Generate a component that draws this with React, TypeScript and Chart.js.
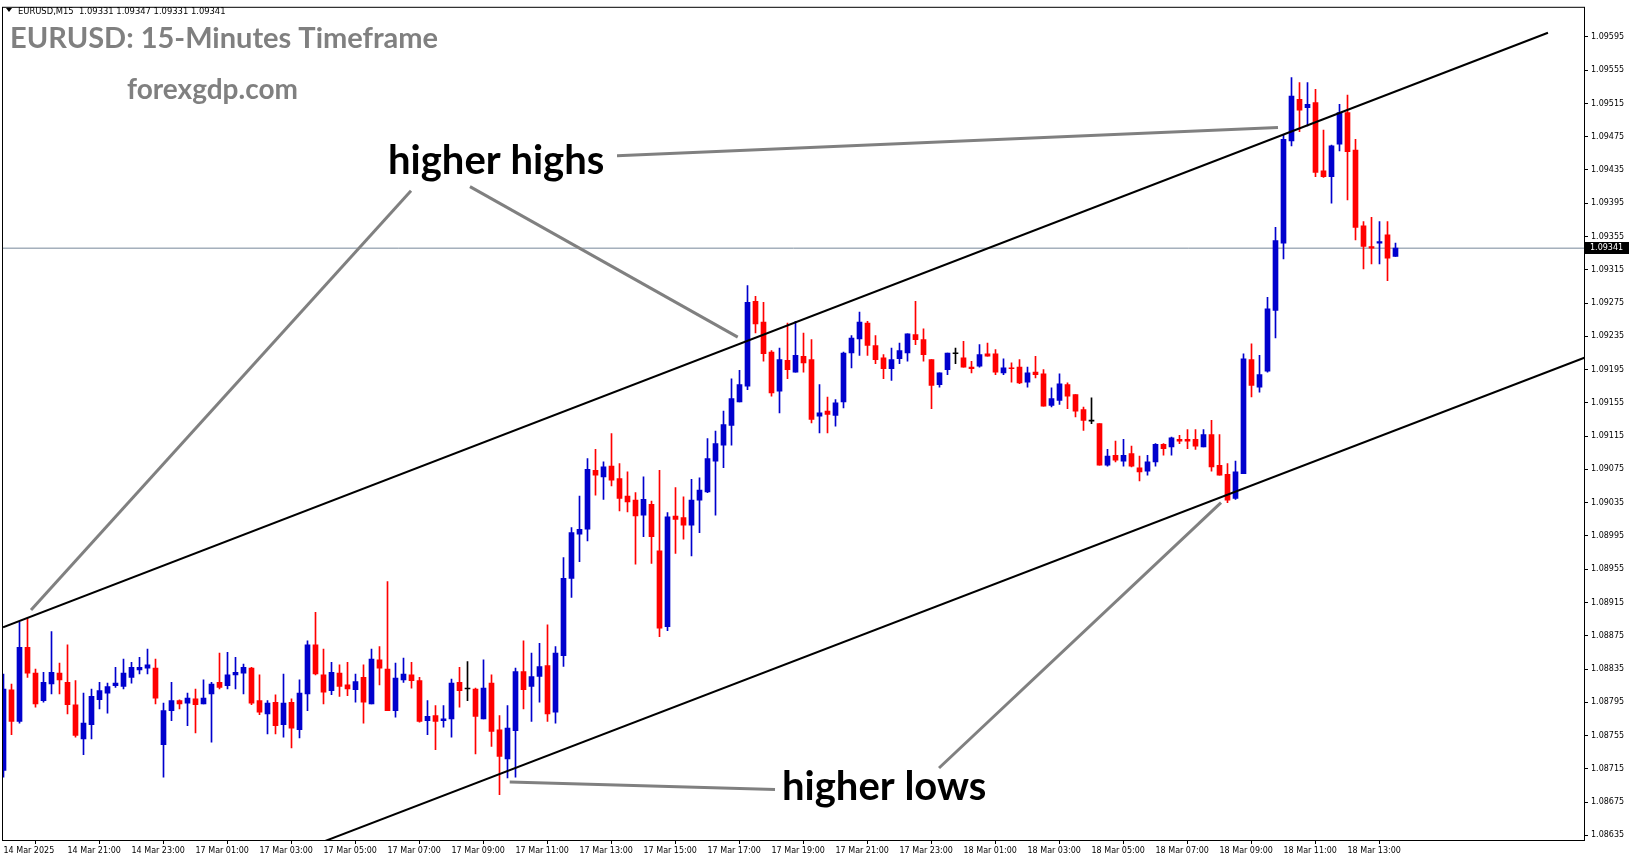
import React, { useEffect, useRef } from "react";
import { Chart, registerables } from "chart.js";
Chart.register(...registerables);

// ---- data (EURUSD M15, bar 0 = 14 Mar 19:00) ----
const openPrices = [
  1.08713,1.08810,1.08772,1.08861,1.08830,1.08797,1.08817,1.08830,1.08819,1.08792,
  1.08751,1.08768,1.08798,1.08806,1.08815,1.08814,1.08825,1.08834,1.08836,1.08836,
  1.08744,1.08785,1.08797,1.08794,1.08799,1.08793,1.08805,1.08819,1.08815,1.08828,
  1.08830,1.08836,1.08797,1.08781,1.08795,1.08768,1.08795,1.08762,1.08805,1.08864,
  1.08828,1.08809,1.08830,1.08816,1.08810,1.08825,1.08793,1.08846,1.08835,1.08785,
  1.08822,1.08828,1.08821,1.08773,1.08779,1.08773,1.08775,1.08819,1.08811,1.08811,
  1.08775,1.08818,1.08762,1.08727,1.08761,1.08832,1.08814,1.08826,1.08839,1.08783,
  1.08851,1.08944,1.08997,1.09003,1.09074,1.09066,1.09079,1.09064,1.09043,1.09038,
  1.09020,1.09033,1.08977,1.08886,1.09019,1.09017,1.09008,1.09038,1.09048,1.09085,
  1.09104,1.09128,1.09156,1.09175,1.09277,1.09252,1.09216,1.09169,1.09206,1.09192,
  1.09211,1.09207,1.09139,1.09145,1.09140,1.09156,1.09215,1.09232,1.09251,1.09224,
  1.09209,1.09196,1.09208,1.09215,1.09237,1.09231,1.09207,1.09177,1.09195,1.09214,
  1.09209,1.09198,1.09199,1.09214,1.09214,1.09191,1.09197,1.09198,1.09180,1.09192,
  1.09190,1.09152,1.09158,1.09177,1.09165,1.09147,1.09133,1.09130,1.09080,1.09092,
  1.09085,1.09094,1.09077,1.09073,1.09084,1.09105,1.09102,1.09111,1.09111,1.09111,
  1.09102,1.09117,1.09080,1.09069,1.09040,1.09070,1.09207,1.09174,1.09193,1.09266,
  1.09347,1.09470,1.09520,1.09510,1.09516,1.09434,1.09427,1.09466,1.09504,1.09459,
  1.09368,1.09343,1.09347,1.09357,1.09331,
];
const highPrices = [
  1.08829,1.08817,1.08891,1.08896,1.08835,1.08831,1.08880,1.08842,1.08864,1.08821,
  1.08806,1.08811,1.08819,1.08818,1.08837,1.08847,1.08843,1.08849,1.08859,1.08847,
  1.08794,1.08819,1.08798,1.08806,1.08811,1.08822,1.08819,1.08854,1.08855,1.08849,
  1.08841,1.08837,1.08828,1.08797,1.08804,1.08829,1.08799,1.08822,1.08869,1.08903,
  1.08859,1.08843,1.08840,1.08843,1.08829,1.08840,1.08859,1.08862,1.08940,1.08842,
  1.08848,1.08843,1.08825,1.08797,1.08791,1.08791,1.08823,1.08837,1.08844,1.08812,
  1.08846,1.08828,1.08779,1.08791,1.08836,1.08869,1.08854,1.08866,1.08888,1.08862,
  1.08969,1.09005,1.09043,1.09088,1.09099,1.09084,1.09118,1.09082,1.09072,1.09047,
  1.09066,1.09037,1.09074,1.09023,1.09053,1.09042,1.09063,1.09065,1.09112,1.09121,
  1.09145,1.09184,1.09194,1.09296,1.09283,1.09276,1.09218,1.09221,1.09251,1.09253,
  1.09239,1.09231,1.09177,1.09162,1.09159,1.09216,1.09236,1.09264,1.09253,1.09236,
  1.09213,1.09221,1.09227,1.09238,1.09277,1.09244,1.09207,1.09191,1.09215,1.09221,
  1.09229,1.09205,1.09225,1.09227,1.09219,1.09208,1.09203,1.09207,1.09198,1.09211,
  1.09195,1.09173,1.09190,1.09179,1.09165,1.09150,1.09161,1.09130,1.09099,1.09109,
  1.09111,1.09103,1.09091,1.09092,1.09106,1.09106,1.09114,1.09116,1.09123,1.09123,
  1.09123,1.09134,1.09117,1.09082,1.09085,1.09214,1.09226,1.09212,1.09282,1.09366,
  1.09477,1.09546,1.09540,1.09540,1.09532,1.09483,1.09465,1.09514,1.09525,1.09472,
  1.09373,1.09378,1.09373,1.09373,1.09347,
];
const lowPrices = [
  1.08705,1.08756,1.08770,1.08825,1.08789,1.08795,1.08805,1.08805,1.08781,1.08753,
  1.08732,1.08751,1.08787,1.08782,1.08813,1.08811,1.08818,1.08829,1.08829,1.08793,
  1.08705,1.08773,1.08787,1.08767,1.08758,1.08793,1.08747,1.08811,1.08811,1.08811,
  1.08805,1.08792,1.08780,1.08757,1.08757,1.08753,1.08740,1.08752,1.08785,1.08828,
  1.08793,1.08804,1.08802,1.08803,1.08795,1.08770,1.08793,1.08816,1.08785,1.08777,
  1.08819,1.08812,1.08771,1.08756,1.08738,1.08765,1.08753,1.08789,1.08797,1.08733,
  1.08775,1.08742,1.08684,1.08704,1.08705,1.08787,1.08772,1.08795,1.08772,1.08770,
  1.08838,1.08921,1.08964,1.08989,1.09044,1.09039,1.09055,1.09025,1.09024,1.08961,
  1.08994,1.08962,1.08874,1.08881,1.08974,1.08991,1.08971,1.08999,1.09047,1.09020,
  1.09077,1.09104,1.09156,1.09171,1.09239,1.09205,1.09163,1.09143,1.09184,1.09192,
  1.09192,1.09131,1.09119,1.09119,1.09127,1.09149,1.09197,1.09212,1.09212,1.09202,
  1.09184,1.09182,1.09202,1.09205,1.09225,1.09205,1.09148,1.09174,1.09189,1.09202,
  1.09198,1.09191,1.09198,1.09211,1.09189,1.09189,1.09180,1.09178,1.09174,1.09185,
  1.09151,1.09150,1.09153,1.09148,1.09138,1.09122,1.09130,1.09080,1.09079,1.09084,
  1.09079,1.09078,1.09061,1.09068,1.09079,1.09092,1.09092,1.09106,1.09100,1.09099,
  1.09102,1.09073,1.09068,1.09035,1.09039,1.09070,1.09162,1.09168,1.09192,1.09233,
  1.09328,1.09464,1.09481,1.09488,1.09427,1.09426,1.09395,1.09458,1.09399,1.09351,
  1.09316,1.09322,1.09322,1.09302,1.09331,
];
const closePrices = [
  1.08811,1.08772,1.08861,1.08830,1.08793,1.08819,1.08831,1.08822,1.08792,1.08755,
  1.08770,1.08802,1.08809,1.08814,1.08818,1.08830,1.08837,1.08837,1.08840,1.08800,
  1.08785,1.08797,1.08793,1.08800,1.08792,1.08800,1.08817,1.08813,1.08828,1.08831,
  1.08837,1.08794,1.08783,1.08794,1.08767,1.08794,1.08764,1.08806,1.08864,1.08829,
  1.08807,1.08831,1.08814,1.08811,1.08820,1.08795,1.08847,1.08836,1.08785,1.08824,
  1.08829,1.08821,1.08772,1.08778,1.08772,1.08775,1.08818,1.08809,1.08811,1.08778,
  1.08812,1.08760,1.08730,1.08764,1.08832,1.08810,1.08826,1.08838,1.08781,1.08854,
  1.08944,1.08999,1.09003,1.09075,1.09068,1.09078,1.09062,1.09040,1.09036,1.09019,
  1.09039,1.08994,1.08884,1.09018,1.09015,1.09008,1.09038,1.09050,1.09088,1.09106,
  1.09129,1.09160,1.09177,1.09276,1.09250,1.09214,1.09167,1.09207,1.09195,1.09212,
  1.09203,1.09135,1.09143,1.09141,1.09155,1.09215,1.09233,1.09252,1.09224,1.09207,
  1.09196,1.09207,1.09218,1.09238,1.09231,1.09213,1.09176,1.09191,1.09215,1.09214,
  1.09198,1.09196,1.09213,1.09211,1.09192,1.09197,1.09196,1.09179,1.09191,1.09189,
  1.09151,1.09160,1.09178,1.09163,1.09145,1.09134,1.09133,1.09080,1.09091,1.09086,
  1.09092,1.09079,1.09072,1.09084,1.09105,1.09100,1.09113,1.09109,1.09109,1.09103,
  1.09117,1.09078,1.09068,1.09038,1.09072,1.09208,1.09176,1.09189,1.09268,1.09350,
  1.09472,1.09524,1.09507,1.09514,1.09432,1.09427,1.09464,1.09504,1.09457,1.09366,
  1.09343,1.09341,1.09349,1.09329,1.09341,
];

const xTickIndex = [0,8,16,24,32,40,48,56,64,72,80,88,96,104,112,120,128,136,144,152,160,168];
const xTickLabels = [
  "14 Mar 2025","14 Mar 21:00","14 Mar 23:00","17 Mar 01:00","17 Mar 03:00","17 Mar 05:00",
  "17 Mar 07:00","17 Mar 09:00","17 Mar 11:00","17 Mar 13:00","17 Mar 15:00","17 Mar 17:00",
  "17 Mar 19:00","17 Mar 21:00","17 Mar 23:00","18 Mar 01:00","18 Mar 03:00","18 Mar 05:00",
  "18 Mar 07:00","18 Mar 09:00","18 Mar 11:00","18 Mar 13:00",
];
const yTickLabels = [
  "1.08635","1.08675","1.08715","1.08755","1.08795","1.08835","1.08875","1.08915","1.08955",
  "1.08995","1.09035","1.09075","1.09115","1.09155","1.09195","1.09235","1.09275","1.09315",
  "1.09355","1.09395","1.09435","1.09475","1.09515","1.09555","1.09595",
];
const currentPrice = 1.09341;
const headerText = "EURUSD,M15  1.09331 1.09347 1.09331 1.09341";
const titleText = "EURUSD: 15-Minutes Timeframe";
const siteText = "forexgdp.com";

// trend lines (bar index, price)
const upperChannel = [{ x: -0.06, y: 1.08885 }, { x: 193.06, y: 1.096 }];
const lowerChannel = [{ x: 35, y: 1.08609 }, { x: 200, y: 1.09218 }];
const highsPointerLeft = [{ x: 50.94, y: 1.0941 }, { x: 3.44, y: 1.08906 }];
const highsPointerMid = [{ x: 58.31, y: 1.09415 }, { x: 91.78, y: 1.09234 }];
const highsPointerRight = [{ x: 76.69, y: 1.09452 }, { x: 159.31, y: 1.09486 }];
const lowsPointerLeft = [{ x: 63.28, y: 1.08699 }, { x: 96.44, y: 1.0869 }];
const lowsPointerRight = [{ x: 116.94, y: 1.08716 }, { x: 152.19, y: 1.09035 }];
const higherHighsLabel = { x: 48.06, y: 1.0943, text: "higher highs" };
const higherLowsLabel = { x: 97.31, y: 1.08678, text: "higher lows" };

const X_MIN = -0.0625;
const X_MAX = 197.5625;
const Y_MIN = 1.086294;
const Y_MAX = 1.0963;

const BLUE = "#0000cd";
const RED = "#ff0000";

function candleColor(i: number) {
  if (closePrices[i] > openPrices[i]) return BLUE;
  if (closePrices[i] < openPrices[i]) return RED;
  return "#000000";
}

export default function App() {
  const ref = useRef<HTMLCanvasElement | null>(null);
  useEffect(() => {
    if (!ref.current) return;
    const idx = openPrices.map((_, i) => i);
    const colors = idx.map(candleColor);
    const lineDs = (data: any, color: string, width: number, order: number) => ({
      type: "line" as const,
      data,
      borderColor: color,
      borderWidth: width,
      pointRadius: 0,
      fill: false,
      tension: 0,
      clip: 0,
      order,
    });
    const overlay = {
      id: "overlay",
      afterDraw(chart: any) {
        const { ctx, chartArea, scales } = chart;
        const { left, top, right, bottom } = chartArea;
        const xs = scales.x, ys = scales.y;
        ctx.save();
        // frame
        ctx.strokeStyle = "#000";
        ctx.lineWidth = 1;
        ctx.strokeRect(left - 0.5, top - 0.5, right - left + 1, bottom - top + 1);
        // header
        ctx.fillStyle = "#000";
        ctx.beginPath();
        ctx.moveTo(6, 8); ctx.lineTo(12, 8); ctx.lineTo(9, 12); ctx.closePath(); ctx.fill();
        ctx.font = "8.4px 'DejaVu Sans'";
        ctx.textBaseline = "alphabetic";
        ctx.textAlign = "left";
        ctx.fillText(headerText, 18, 14);
        // title + site
        ctx.fillStyle = "#808080";
        ctx.font = "bold 29px Lato";
        ctx.fillText(titleText, 10, 48);
        ctx.font = "bold 28px Lato";
        ctx.fillText(siteText, 127, 99);
        // annotations
        ctx.fillStyle = "#000";
        ctx.font = "bold 40px Lato";
        ctx.fillText(higherHighsLabel.text, xs.getPixelForValue(higherHighsLabel.x), ys.getPixelForValue(higherHighsLabel.y));
        ctx.fillText(higherLowsLabel.text, xs.getPixelForValue(higherLowsLabel.x), ys.getPixelForValue(higherLowsLabel.y));
        // current price box
        const py = Math.round(ys.getPixelForValue(currentPrice));
        ctx.fillStyle = "#000";
        ctx.fillRect(right + 1, py - 6, 44, 12);
        ctx.fillStyle = "#fff";
        ctx.font = "8px 'DejaVu Sans'";
        ctx.textBaseline = "middle";
        ctx.fillText(currentPrice.toFixed(5), right + 6, py);
        ctx.restore();
      },
    };
    const chart = new Chart(ref.current, {
      type: "bar",
      data: {
        datasets: [
          lineDs(upperChannel, "#000", 2, 0),
          lineDs(lowerChannel, "#000", 2, 0),
          lineDs(highsPointerLeft, "#808080", 3, 0),
          lineDs(highsPointerMid, "#808080", 3, 0),
          lineDs(highsPointerRight, "#808080", 3, 0),
          lineDs(lowsPointerLeft, "#808080", 3, 0),
          lineDs(lowsPointerRight, "#808080", 3, 0),
          {
            type: "bar",
            data: idx.map((i) => ({ x: i, y: [openPrices[i], closePrices[i]] })),
            backgroundColor: colors,
            barThickness: 5,
            grouped: false,
            minBarLength: 1,
            borderWidth: 0,
            clip: 0,
            order: 1,
          } as any,
          {
            type: "bar",
            data: idx.map((i) => ({ x: i, y: [lowPrices[i], highPrices[i]] })),
            backgroundColor: colors,
            barThickness: 1,
            grouped: false,
            borderWidth: 0,
            clip: 0,
            order: 2,
          } as any,
          lineDs([{ x: X_MIN, y: currentPrice }, { x: X_MAX, y: currentPrice }], "#778899", 1, 3),
        ] as any,
      },
      options: {
        animation: false,
        responsive: false,
        devicePixelRatio: 1,
        events: [],
        layout: { padding: { left: 3, top: 3, right: 0, bottom: 0 } },
        plugins: { legend: { display: false }, tooltip: { enabled: false } },
        scales: {
          x: {
            type: "linear",
            min: X_MIN,
            max: X_MAX,
            offset: false,
            border: { display: false },
            grid: { drawOnChartArea: false, drawTicks: true, tickLength: 4, color: "#000" },
            afterBuildTicks: (scale: any) => {
              scale.ticks = xTickIndex.map((v) => ({ value: v }));
            },
            afterFit: (scale: any) => { scale.height = 21; },
            ticks: {
              autoSkip: false,
              maxRotation: 0,
              align: "start",
              padding: 2,
              color: "#000",
              font: { family: "DejaVu Sans", size: 8 },
              callback: (_v: any, i: number) => xTickLabels[i],
            },
          },
          y: {
            type: "linear",
            position: "right",
            min: Y_MIN,
            max: Y_MAX,
            border: { display: false },
            grid: { drawOnChartArea: false, drawTicks: true, tickLength: 4, color: "#000" },
            afterBuildTicks: (scale: any) => {
              scale.ticks = yTickLabels.map((t) => ({ value: Number(t) }));
            },
            afterFit: (scale: any) => { scale.width = 47; },
            ticks: {
              autoSkip: false,
              padding: 3,
              color: "#000",
              font: { family: "DejaVu Sans", size: 8 },
              callback: (_v: any, i: number) => yTickLabels[i],
            },
          },
        },
      } as any,
      plugins: [overlay],
    });
    return () => chart.destroy();
  }, []);
  return (
    <div style={{ position: "fixed", left: 0, top: 0, width: 1631, height: 861, background: "#fff" }}>
      <canvas ref={ref} width={1631} height={861} style={{ display: "block" }} />
    </div>
  );
}
